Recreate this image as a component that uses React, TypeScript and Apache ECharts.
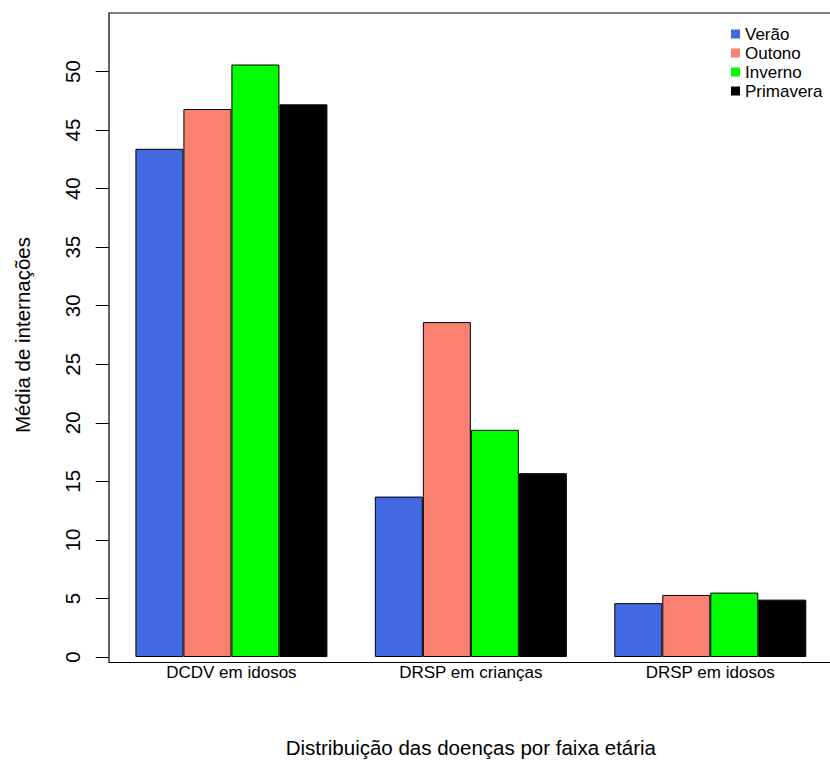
import React, { useEffect, useRef } from "react";
import * as echarts from "echarts";

const categories = ["DCDV em idosos", "DRSP em crianças", "DRSP em idosos"];
const seriesNames = ["Verão", "Outono", "Inverno", "Primavera"];
const verao = [43.4, 13.7, 4.6];
const outono = [46.8, 28.6, 5.3];
const inverno = [50.6, 19.4, 5.5];
const primavera = [47.2, 15.7, 4.9];
const seriesValues = [verao, outono, inverno, primavera];
const colors = ["#4169E1", "#FA8072", "#00FF00", "#000000"];
const yTicks = [0, 5, 10, 15, 20, 25, 30, 35, 40, 45, 50];

const FONT = "Liberation Sans, Arial, Helvetica, sans-serif";

export default function App() {
  const ref = useRef<HTMLDivElement>(null);
  useEffect(() => {
    if (!ref.current) return;
    const chart = echarts.init(ref.current, undefined, { renderer: "svg" });
    chart.setOption({
      animation: false,
      backgroundColor: "#ffffff",
      textStyle: { fontFamily: FONT, color: "#000" },
      grid: { left: 111.7, width: 720, top: 13, bottom: 100.5, containLabel: false },
      legend: {
        orient: "vertical",
        left: 726,
        top: 20.5,
        itemWidth: 9,
        itemHeight: 9,
        itemGap: 2,
        itemTextGap: 8,
        icon: "rect",
        textStyle: { fontSize: 17, fontFamily: FONT, color: "#000" },
        itemStyle: { borderWidth: 0 },
        data: seriesNames,
      },
      xAxis: {
        type: "category",
        data: categories,
        axisLine: { show: false },
        axisTick: { show: false },
        axisLabel: { fontSize: 17, color: "#000", margin: 7, fontFamily: FONT },
        name: "Distribuição das doenças por faixa etária",
        nameLocation: "middle",
        nameGap: 80,
        nameTextStyle: { fontSize: 20.5, color: "#000", fontFamily: FONT },
        splitLine: { show: false },
      },
      yAxis: {
        type: "value",
        min: 0,
        max: 55,
        interval: 5,
        offset: 3,
        axisLine: { show: false },
        axisTick: {
          show: true,
          length: 13,
          lineStyle: { color: "#000", width: 1 },
          customValues: yTicks,
        },
        axisLabel: {
          rotate: 90,
          fontSize: 20.5,
          color: "#000",
          margin: 26,
          fontFamily: FONT,
          customValues: yTicks,
        },
        splitLine: { show: false },
        name: "Média de internações",
        nameLocation: "middle",
        nameRotate: 90,
        nameGap: 76,
        nameTextStyle: { fontSize: 20.5, color: "#000", fontFamily: FONT },
      },
      graphic: [
        {
          type: "rect",
          silent: true,
          z: 100,
          shape: { x: 109, y: 13, width: 730, height: 649.5 },
          style: { fill: "none", stroke: "#000", lineWidth: 1.2 },
        },
      ],
      series: seriesNames.map((name, i) => ({
        name,
        type: "bar",
        data: seriesValues[i],
        barWidth: 48,
        barGap: "0%",
        itemStyle: { color: colors[i], borderColor: "#000", borderWidth: 1 },
      })),
    });
    return () => chart.dispose();
  }, []);
  return (
    <div
      ref={ref}
      style={{ position: "fixed", left: 0, top: 0, width: 830, height: 763, background: "#fff" }}
    />
  );
}
